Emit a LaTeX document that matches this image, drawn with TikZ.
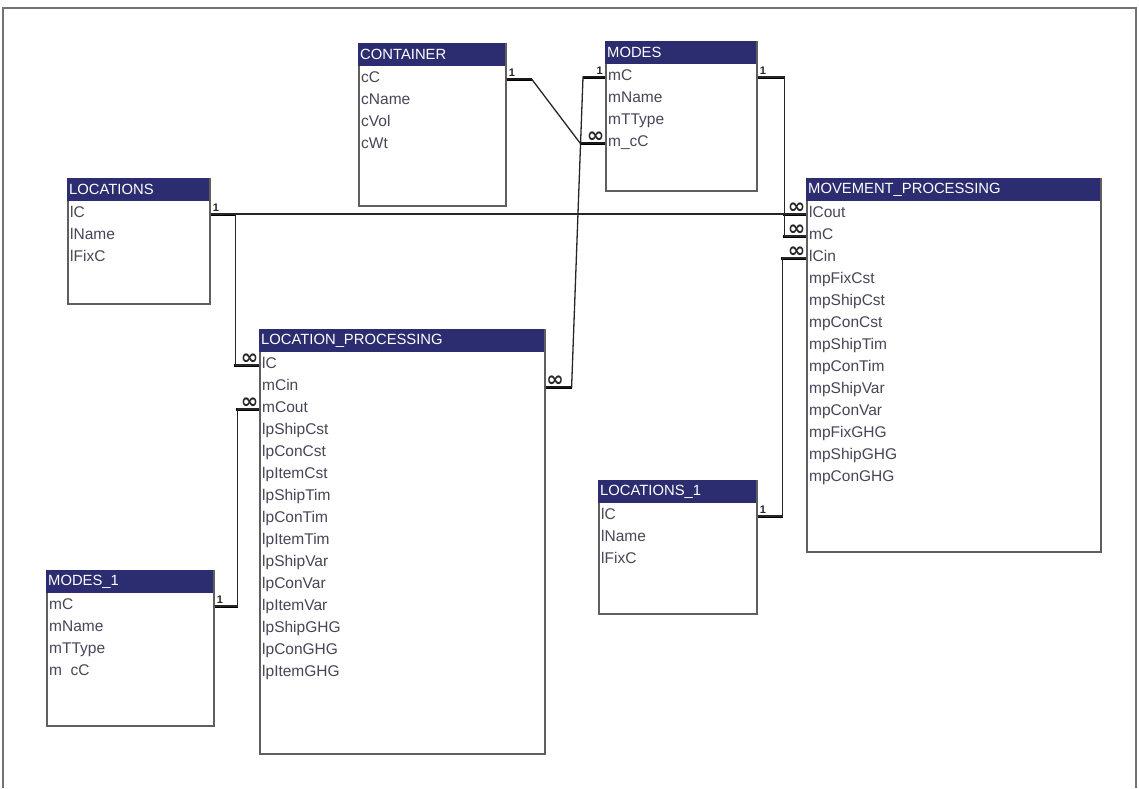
\documentclass[tikz,border=0pt]{standalone}
\usepackage{fontspec}
\setmainfont{Liberation Sans}
\newfontfamily\symfont{DejaVu Sans}
\usepackage{tikz}
\usetikzlibrary{calc}
\definecolor{hdrblue}{RGB}{44,44,112}
\definecolor{fldgray}{RGB}{70,70,88}
\definecolor{boxgray}{RGB}{95,95,95}
\tikzstyle{tbl}=[draw=boxgray, line width=1.6pt, fill=white, anchor=north west, inner sep=0pt]
\tikzstyle{hdr}=[fill=hdrblue, text=white, anchor=north west, minimum height=23pt, inner xsep=2pt, inner ysep=0pt, align=left, font=\fontsize{14.8}{15}\selectfont]
\tikzstyle{fld}=[anchor=west, inner sep=0pt, text height=10pt, text depth=3pt, text=fldgray, font=\fontsize{15.5}{16}\selectfont]
\tikzstyle{rel}=[line width=1.3pt, black!85]
\tikzstyle{stub}=[line width=3pt, black]
\tikzstyle{one}=[inner sep=1.5pt, font=\fontsize{11}{11}\selectfont\bfseries]
\tikzstyle{many}=[inner sep=0pt, font=\symfont\bfseries\fontsize{21}{21}\selectfont]

\begin{document}
\begin{tikzpicture}[x=1pt, y=-1pt]
    \useasboundingbox (0,0) rectangle (1139,788);

    %frame
    \draw [line width=2.5pt, black!55] (3,788) -- (3,8) -- (1136,8) -- (1136,788);

    %tables
    \node [tbl, minimum width=147pt, minimum height=162pt] (cont) at (358,43) {};
    \node [hdr, text width=143pt] at (cont.north west) {CONTAINER};
    \foreach \f [count=\i] in {cC,cName,cVol,cWt}{\node [fld] (cont-\i) at (361,{57+22*\i}) {\f};}

    \node [tbl, minimum width=151pt, minimum height=149pt] (modes) at (605,41) {};
    \node [hdr, text width=147pt] at (modes.north west) {MODES};
    \foreach \f [count=\i] in {mC,mName,mTType,m\_cC}{\node [fld] (modes-\i) at (608,{55+22*\i}) {\f};}

    \node [tbl, minimum width=142pt, minimum height=125pt] (loc) at (67,178) {};
    \node [hdr, text width=138pt] at (loc.north west) {LOCATIONS};
    \foreach \f [count=\i] in {lC,lName,lFixC}{\node [fld] (loc-\i) at (70,{192+22*\i}) {\f};}

    \node [tbl, minimum width=285pt, minimum height=424pt] (lp) at (259,329) {};
    \node [hdr, text width=281pt] at (lp.north west) {LOCATION\_PROCESSING};
    \foreach \f [count=\i] in {lC,mCin,mCout,lpShipCst,lpConCst,lpItemCst,lpShipTim,lpConTim,lpItemTim,lpShipVar,lpConVar,lpItemVar,lpShipGHG,lpConGHG,lpItemGHG}{\node [fld] (lp-\i) at (262,{343+22*\i}) {\f};}

    \node [tbl, minimum width=294pt, minimum height=373pt] (mp) at (806,178) {};
    \node [hdr, text width=290pt] at (mp.north west) {MOVEMENT\_PROCESSING};
    \foreach \f [count=\i] in {lCout,mC,lCin,mpFixCst,mpShipCst,mpConCst,mpShipTim,mpConTim,mpShipVar,mpConVar,mpFixGHG,mpShipGHG,mpConGHG}{\node [fld] (mp-\i) at (809,{192+22*\i}) {\f};}

    \node [tbl, minimum width=158pt, minimum height=133pt] (loc1) at (598,480) {};
    \node [hdr, text width=154pt] at (loc1.north west) {LOCATIONS\_1};
    \foreach \f [count=\i] in {lC,lName,lFixC}{\node [fld] (loc1-\i) at (601,{494+22*\i}) {\f};}

    \node [tbl, minimum width=167pt, minimum height=155pt] (modes1) at (46,570) {};
    \node [hdr, text width=163pt] at (modes1.north west) {MODES\_1};
    \foreach \f [count=\i] in {mC,mName,mTType,m~~cC}{\node [fld] (modes1-\i) at (49,{584+22*\i}) {\f};}

    %stubs
    \draw [stub] (cont.east |- cont-1) -- ++(25,0);
    \draw [stub] (modes.west |- modes-4) -- ++(-25,0);
    \draw [stub] (modes.west |- modes-1) -- ++(-22,0);
    \draw [stub] (lp.east |- lp-2) -- ++(26,0);
    \draw [stub] (modes.east |- modes-1) -- ++(27,0);
    \draw [stub] (loc.east |- loc-1) -- ++(25,0);
    \draw [stub] (mp.west |- mp-1) -- ++(-23,0);
    \draw [stub] (mp.west |- mp-2) -- ++(-23,0);
    \draw [stub] (mp.west |- mp-3) -- ++(-25,0);
    \draw [stub] (lp.west |- lp-1) -- ++(-25,0);
    \draw [stub] (lp.west |- lp-3) -- ++(-23,0);
    \draw [stub] (modes1.east |- modes1-1) -- ++(23,0);
    \draw [stub] (loc1.east |- loc1-1) -- ++(25,0);

    %relations
    \draw [rel] (cont.east |- cont-1) node [one, above right] {1} -- ++(25,0) -- ($(modes.west |- modes-4)+(-25,0)$) -- (modes.west |- modes-4) node [many, above left] {∞};
    \draw [rel] (modes.west |- modes-1) node [one, above left] {1} -- ++(-22,0) -- ($(lp.east |- lp-2)+(26,0)$) -- (lp.east |- lp-2) node [many, above right] {∞};
    \draw [rel] (modes.east |- modes-1) node [one, above right] {1} -- ++(27,0) |- (mp.west |- mp-2) node [many, above left] {∞};
    \draw [rel] (loc.east |- loc-1) node [one, above right] {1} -- (mp.west |- mp-1) node [many, above left] {∞};
    \draw [rel] (loc.east |- loc-1) -- ++(25,0) |- (lp.west |- lp-1) node [many, above left] {∞};
    \draw [rel] (modes1.east |- modes1-1) node [one, above right] {1} -- ++(23,0) |- (lp.west |- lp-3) node [many, above left] {∞};
    \draw [rel] (loc1.east |- loc1-1) node [one, above right] {1} -- ++(25,0) |- (mp.west |- mp-3) node [many, above left] {∞};

\end{tikzpicture}
\end{document}
